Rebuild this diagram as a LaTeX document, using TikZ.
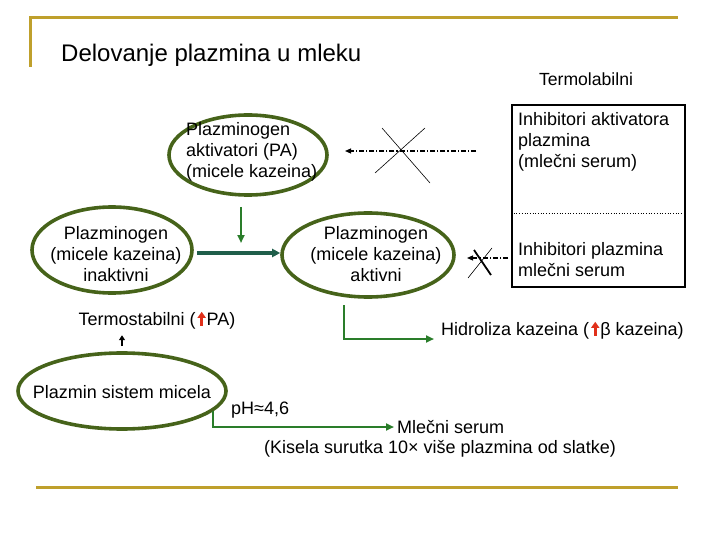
\documentclass[tikz,border=0pt]{standalone}
\usepackage{fontspec}
\setmainfont{Liberation Sans}
\usetikzlibrary{shapes.geometric,arrows.meta}
\definecolor{slidegold}{HTML}{BFA02C}
\definecolor{ovalgreen}{HTML}{46631A}
\definecolor{arrowgreen}{HTML}{2A7D2A}
\definecolor{tealgreen}{HTML}{1F5E4A}
\definecolor{upred}{HTML}{E0301A}
\newcommand{\redup}{\hspace{2pt}\tikz[baseline=0pt]\draw[upred,line width=2.6pt,-{Triangle[length=6pt,width=8pt]}] (0pt,0pt) -- (0pt,14pt);\hspace{1pt}}

\begin{document}
\begin{tikzpicture}[x=1pt,y=-1pt,
    txt/.style={inner sep=0pt,font=\fontsize{18}{21}\selectfont},
    oval/.style={ellipse,draw=ovalgreen,line width=3.6pt,inner sep=0pt},
    garrow/.style={arrowgreen,line width=2.5pt,-{Triangle[length=8pt,width=7pt]}},
    inhib/.style={black,line width=1.2pt,dash pattern=on 5pt off 2pt on 1.2pt off 2pt,-{Triangle[length=6pt,width=5pt]}}]
  \useasboundingbox (0,0) rectangle (720,540);

  % slide frame
  \draw[slidegold,line width=3pt] (30,67) -- (30,18) -- (678,18);
  \draw[slidegold,line width=3pt] (36,487) -- (678,487);
  \node[txt,anchor=west,font=\fontsize{24}{28}\selectfont] (title) at (61,55) {Delovanje plazmina u mleku};

  % ovals
  \node[oval,minimum width=158pt,minimum height=80pt] (paE) at (248,155) {};
  \node[oval,minimum width=160pt,minimum height=86pt] (inE) at (112,250) {};
  \node[oval,minimum width=172pt,minimum height=84pt] (akE) at (368,255) {};
  \node[oval,minimum width=208pt,minimum height=76pt] (psE) at (122,391) {};
  \node[txt,anchor=west,align=left] (pa) at (186,152) {Plazminogen\\aktivatori (PA)\\(micele kazeina)};
  \node[txt,align=center] (inakt) at (116,254) {Plazminogen\\(micele kazeina)\\inaktivni};
  \node[txt,align=center] (akt) at (376,254) {Plazminogen\\(micele kazeina)\\aktivni};
  \node[txt] (ps) at (122,392) {Plazmin sistem micela};

  % inhibitors
  \node[txt,font=\fontsize{17.6}{20}\selectfont] (tlab) at (586,79) {Termolabilni};
  \node[draw,line width=2pt,minimum width=173pt,minimum height=182pt,inner sep=0pt] (box) at (598.5,196) {};
  \draw[dotted,line width=0.7pt] (box.west |- 0,213) -- (box.east |- 0,213);
  \node[txt,anchor=west,align=left] (inhA) at (518,142) {Inhibitori aktivatora\\plazmina\\(mlečni serum)};
  \node[txt,anchor=west,align=left] (inhP) at (518,260) {Inhibitori plazmina\\mlečni serum};

  \coordinate (blk1) at (476,151);
  \coordinate (blk1e) at (345,151);
  \coordinate (blk2) at (508,258);
  \coordinate (blk2e) at (467,258);
  \draw[inhib] (blk1) -- (blk1e);
  \draw[inhib] (blk2) -- (blk2e);
  \draw[line width=0.6pt] (382,128) -- (430,183) (425,128) -- (375,173);
  \draw[line width=1.8pt] (474,250) -- (491,275);
  \draw[line width=0.6pt] (468,278) -- (492,248);

  % activation
  \coordinate (act1) at (241,207);
  \coordinate (act2) at (241,243);
  \draw[garrow] (act1) -- (act2);
  \draw[tealgreen,line width=3.5pt,-{Triangle[length=8pt,width=8pt]},shorten <=3pt]
    (inE.east |- 0,253) -- (akE.west |- 0,253);

  % lower part
  \node[txt] (tstab) at (157,320) {Termostabilni (\redup PA)};
  \draw[line width=1.8pt,-{Triangle[length=5pt,width=6pt]}] ([yshift=5pt]psE.north) -- ([yshift=16pt]psE.north);

  \node[txt,anchor=west] (hidro) at (441,330) {Hidroliza kazeina (\redup β kazeina)};
  \coordinate (hyd1) at (344,305);
  \coordinate (hyd2) at (434,339);
  \draw[garrow] (hyd1) |- (hyd2);

  \node[txt,anchor=west] (ph) at (231,410) {pH≈4,6};
  \node[txt,anchor=west] (serum) at (397,427) {Mlečni serum};
  \node[txt] (kisela) at (440,449) {(Kisela surutka 10× više plazmina od slatke)};
  \coordinate (ser1) at (213,411);
  \coordinate (ser2) at (394,427);
  \draw[garrow] (ser1) |- (ser2);
\end{tikzpicture}
\end{document}
